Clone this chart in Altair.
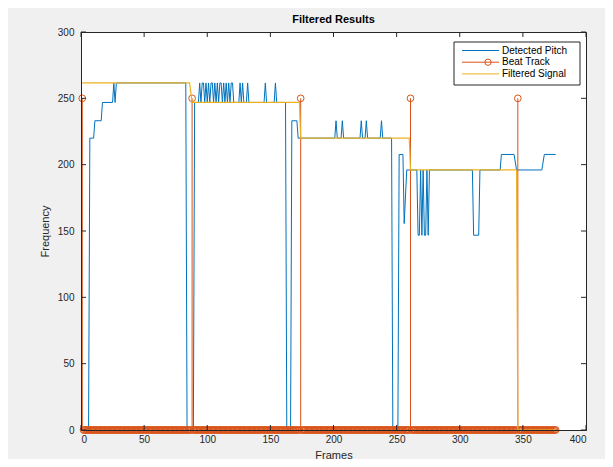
import altair as alt
import pandas as pd

# ---- data ----
pitch_frames = [1, 6, 7, 10, 11, 16, 17, 25, 26, 27, 28, 83, 84, 89, 90, 93,
                94, 95, 96, 97, 98, 99, 100, 101, 102, 103, 104, 105, 106, 107,
                108, 109, 110, 111, 112, 113, 114, 115, 116, 117, 118, 119, 120, 121,
                125, 126, 127, 128, 129, 131, 132, 133, 145, 146, 147, 153, 154, 155,
                162, 163, 166, 167, 171, 172,
                201, 202, 203, 206, 207, 208, 221, 222, 223, 225, 226, 227, 237, 238, 239,
                246, 247, 251, 252, 255, 256, 258,
                266, 267, 268, 269, 270, 271, 272, 273, 274, 275, 276,
                310, 311, 315, 316, 332, 333, 343, 345, 365, 367, 376]
pitch_hz = [0, 0, 220, 220, 233.1, 233.1, 246.9, 246.9, 261.6, 246.9, 261.6, 261.6, 0, 0, 246.9, 246.9,
            261.6, 246.9, 261.6, 261.6, 246.9, 261.6, 246.9, 261.6, 246.9, 261.6, 261.6, 246.9, 261.6, 246.9,
            261.6, 246.9, 261.6, 261.6, 246.9, 261.6, 246.9, 261.6, 246.9, 261.6, 246.9, 261.6, 261.6, 246.9,
            246.9, 261.6, 246.9, 261.6, 246.9, 246.9, 261.6, 246.9, 246.9, 261.6, 246.9, 246.9, 261.6, 246.9,
            246.9, 0, 0, 233.1, 233.1, 220,
            220, 233.1, 220, 220, 233.1, 220, 220, 233.1, 220, 220, 233.1, 220, 220, 233.1, 220,
            220, 0, 0, 207.7, 207.7, 155.6, 196,
            196, 146.8, 146.8, 196, 146.8, 196, 146.8, 146.8, 196, 146.8, 196,
            196, 146.8, 146.8, 196, 196, 207.7, 207.7, 196, 196, 207.7, 207.7]

filtered_frames = [1, 86, 88, 173, 174, 260, 261, 345, 346, 376]
filtered_hz = [261.6, 261.6, 246.9, 246.9, 220, 220, 196, 196, 0, 0]

beat_frames = [1, 88, 174, 261, 346]
beat_level = 250
last_frame = 376

x_ticks = [0, 50, 100, 150, 200, 250, 300, 350, 400]
y_ticks = [0, 50, 100, 150, 200, 250, 300]

legend_labels = ["Detected Pitch", "Beat Track", "Filtered Signal"]

# ---- style ----
BLUE = "#0072BD"
ORANGE = "#D95319"
YELLOW = "#EDB120"
AXC = "#262626"
FONT = "Liberation Sans"
W, H = 505, 398

xs = alt.Scale(domain=[0, 400], nice=False, zero=False)
ys = alt.Scale(domain=[0, 300], nice=False)
x_axis = alt.Axis(values=x_ticks, title="Frames", ticks=False, grid=False, domain=True,
                  domainColor=AXC, zindex=1, labelFontSize=10, labelColor=AXC,
                  titleFontSize=11, titleFontWeight="normal", titleColor=AXC,
                  labelPadding=4, titlePadding=5, labelFont=FONT, titleFont=FONT)
y_axis = alt.Axis(values=y_ticks, title="Frequency", ticks=False, grid=False, domain=True,
                  domainColor=AXC, zindex=1, labelFontSize=10, labelColor=AXC,
                  titleFontSize=11, titleFontWeight="normal", titleColor=AXC,
                  labelPadding=7, titlePadding=7, labelFont=FONT, titleFont=FONT)


def X(field="frame"):
    return alt.X(f"{field}:Q", scale=xs, axis=x_axis)


def Y(field="hz"):
    return alt.Y(f"{field}:Q", scale=ys, axis=y_axis)


pitch_df = pd.DataFrame({"frame": pitch_frames, "hz": pitch_hz, "i": range(len(pitch_frames))})
filt_df = pd.DataFrame({"frame": filtered_frames, "hz": filtered_hz, "i": range(len(filtered_frames))})
all_frames = list(range(1, last_frame + 1))
beat_df = pd.DataFrame({"frame": all_frames,
                        "hz": [beat_level if f in beat_frames else 0 for f in all_frames]})
stem_df = pd.DataFrame({"frame": beat_frames, "hz": [beat_level] * len(beat_frames), "base": [0] * len(beat_frames)})

pitch = alt.Chart(pitch_df).mark_line(color=BLUE, strokeWidth=1).encode(
    x=X(), y=Y(), order="i:Q")
stems = alt.Chart(stem_df).mark_rule(color=ORANGE, strokeWidth=1).encode(
    x=X(), y=Y(), y2="base:Q")
circles = alt.Chart(beat_df).mark_point(shape="circle", filled=False, color=ORANGE,
                                        size=45, strokeWidth=1, opacity=1).encode(x=X(), y=Y())
filt = alt.Chart(filt_df).mark_line(color=YELLOW, strokeWidth=1.2).encode(
    x=X(), y=Y(), order="i:Q")

xt_df = pd.DataFrame({"frame": x_ticks})
yt_df = pd.DataFrame({"hz": y_ticks})
tick_bottom = alt.Chart(xt_df).mark_rule(color=AXC, strokeWidth=1).encode(
    x=X(), y=alt.value(H), y2=alt.value(H - 5))
tick_top = alt.Chart(xt_df).mark_rule(color=AXC, strokeWidth=1).encode(
    x=X(), y=alt.value(0), y2=alt.value(5))
tick_left = alt.Chart(yt_df).mark_rule(color=AXC, strokeWidth=1).encode(
    y=Y(), x=alt.value(0), x2=alt.value(5))
tick_right = alt.Chart(yt_df).mark_rule(color=AXC, strokeWidth=1).encode(
    y=Y(), x=alt.value(W), x2=alt.value(W - 5))

one = pd.DataFrame({"a": [0]})
leg_box = alt.Chart(one).mark_rect(fill="white", stroke=AXC, strokeWidth=1).encode(
    x=alt.value(373), x2=alt.value(499), y=alt.value(10), y2=alt.value(53))
leg_layers = [leg_box]
leg_colors = [BLUE, ORANGE, YELLOW]
for k, (lab, col) in enumerate(zip(legend_labels, leg_colors)):
    yy = 18.5 + k * 11.7
    leg_layers.append(alt.Chart(one).mark_rule(color=col, strokeWidth=1).encode(
        x=alt.value(381), x2=alt.value(418), y=alt.value(yy)))
    if k == 1:
        leg_layers.append(alt.Chart(one).mark_point(shape="circle", filled=False, color=col,
                                                    size=40, strokeWidth=1, opacity=1).encode(
            x=alt.value(407), y=alt.value(yy)))
    leg_layers.append(alt.Chart(one).mark_text(align="left", baseline="middle", fontSize=10,
                                               font=FONT, color="#000000").encode(
        x=alt.value(421), y=alt.value(yy), text=alt.value(lab)))

chart = alt.layer(pitch, stems, circles, filt, tick_bottom, tick_top, tick_left, tick_right,
                  *leg_layers).properties(
    width=W, height=H,
    title=alt.TitleParams("Filtered Results", fontSize=11, fontWeight="bold", font=FONT,
                          color="#000000", offset=2, anchor="middle"),
    autosize=alt.AutoSizeParams(type="none"),
    padding={"left": 73, "top": 24, "right": 19, "bottom": 29},
    background="#f0f0f0",
).configure_view(fill="white", stroke=AXC, strokeWidth=1)

chart.save("out.html", embed_options={"renderer": "svg", "actions": False})
